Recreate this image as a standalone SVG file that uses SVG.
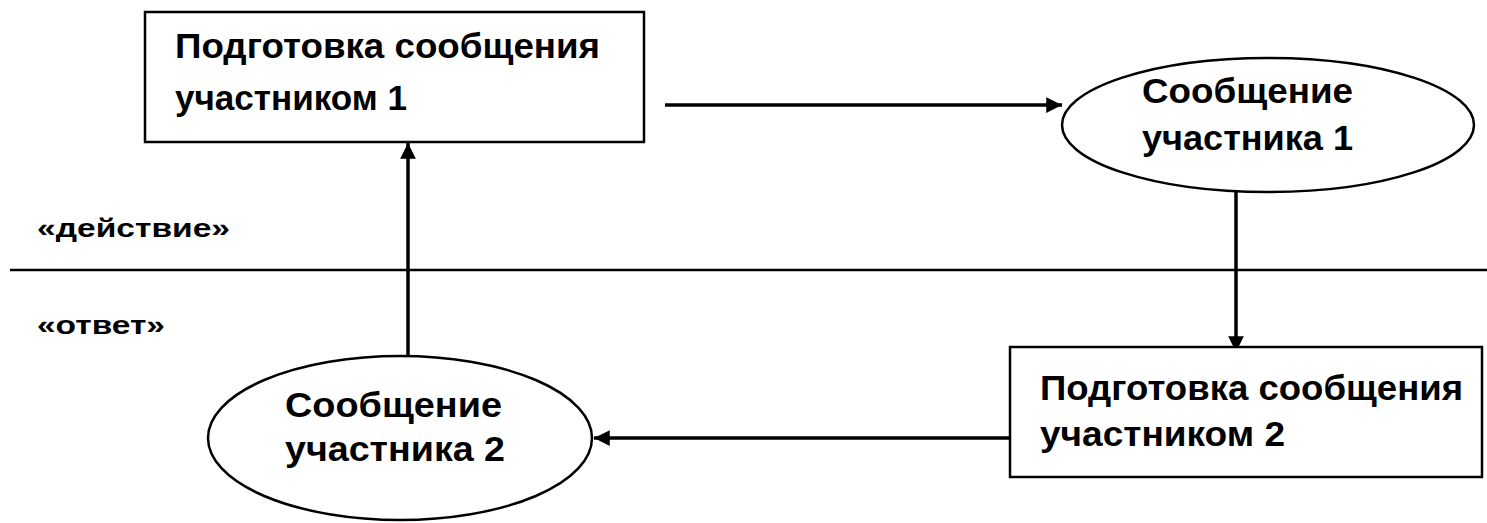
<svg xmlns="http://www.w3.org/2000/svg" width="1487" height="523" viewBox="0 0 1487 523">
<style>
.shape{fill:#fff;stroke:#000;stroke-width:2.5}
.t{font-family:"Liberation Sans",Arial,sans-serif;font-weight:bold;font-size:35px;fill:#000}
.lbl{font-family:"Liberation Sans",Arial,sans-serif;font-weight:bold;font-size:25px;fill:#000}
.conn{stroke:#000;stroke-width:3.5;fill:none}
</style>
<defs>
<marker id="arr" viewBox="0 0 10 10" refX="10" refY="5" markerWidth="5" markerHeight="4.5" orient="auto" markerUnits="strokeWidth">
<path d="M0,0 L10,5 L0,10 z" fill="#000"/>
</marker>
</defs>
<rect width="1487" height="523" fill="#fff"/>
<line x1="10" y1="270" x2="1487" y2="270" stroke="#000" stroke-width="2.5"/>
<g id="lbl-action"><text class="lbl" x="37" y="237" textLength="193" lengthAdjust="spacingAndGlyphs">«действие»</text></g>
<g id="lbl-answer"><text class="lbl" x="37" y="334" textLength="128" lengthAdjust="spacingAndGlyphs">«ответ»</text></g>
<g id="connectors">
<line class="conn" x1="665" y1="105" x2="1062" y2="105" marker-end="url(#arr)"/>
<line class="conn" x1="1236" y1="192" x2="1236" y2="352" marker-end="url(#arr)"/>
<line class="conn" x1="1010" y1="438" x2="594" y2="438" marker-end="url(#arr)"/>
<line class="conn" x1="408" y1="357" x2="408" y2="143" marker-end="url(#arr)"/>
</g>
<g id="box1">
<rect class="shape" x="145" y="12" width="499" height="130"/>
<text class="t" x="175" y="58" textLength="425" lengthAdjust="spacingAndGlyphs">Подготовка сообщения</text>
<text class="t" x="175" y="110" textLength="232" lengthAdjust="spacingAndGlyphs">участником 1</text>
</g>
<g id="ellipse1">
<ellipse class="shape" cx="1268" cy="125" rx="206" ry="67"/>
<text class="t" x="1142" y="103" textLength="211" lengthAdjust="spacingAndGlyphs">Сообщение</text>
<text class="t" x="1142" y="150" textLength="211" lengthAdjust="spacingAndGlyphs">участника 1</text>
</g>
<g id="box2">
<rect class="shape" x="1010" y="347" width="472" height="130"/>
<text class="t" x="1040" y="400" textLength="423" lengthAdjust="spacingAndGlyphs">Подготовка сообщения</text>
<text class="t" x="1040" y="446" textLength="245" lengthAdjust="spacingAndGlyphs">участником 2</text>
</g>
<g id="ellipse2">
<ellipse class="shape" cx="400" cy="438" rx="192" ry="82"/>
<text class="t" x="285" y="417" textLength="217" lengthAdjust="spacingAndGlyphs">Сообщение</text>
<text class="t" x="285" y="461" textLength="220" lengthAdjust="spacingAndGlyphs">участника 2</text>
</g>
</svg>
